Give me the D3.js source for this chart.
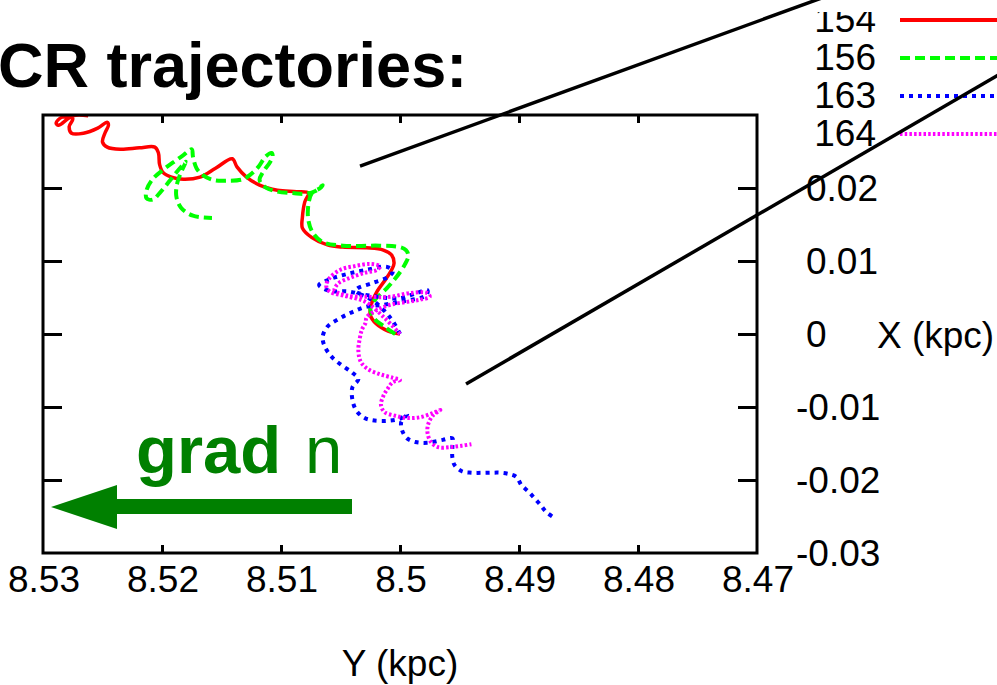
<!DOCTYPE html>
<html><head><meta charset="utf-8">
<script src="https://cdn.jsdelivr.net/npm/d3@7"></script>
<style>body{margin:0;background:#fff}svg{display:block}text{font-family:"Liberation Sans",Arial,sans-serif}</style>
</head><body>
<svg id="c" width="997" height="685"></svg>
<script>
// Y (kpc) horizontal, X (kpc) vertical — points are [Y, X]
const traj154 = [[8.5262,0.0299],[8.5275,0.0299],[8.5287,0.0286],[8.5289,0.0289],[8.5284,0.0297],[8.5275,0.0295],[8.5278,0.0284],[8.5276,0.0275],[8.5266,0.0275],[8.5254,0.0282],[8.5246,0.0290],[8.5245,0.0286],[8.5248,0.0275],[8.5250,0.0263],[8.5246,0.0256],[8.5235,0.0253],[8.5219,0.0255],[8.5206,0.0256],[8.5203,0.0248],[8.5202,0.0232],[8.5199,0.0221],[8.5192,0.0215],[8.5182,0.0212],[8.5168,0.0215],[8.5155,0.0227],[8.5141,0.0240],[8.5137,0.0229],[8.5129,0.0215],[8.5118,0.0204],[8.5103,0.0197],[8.5087,0.0195],[8.5077,0.0193],[8.5080,0.0181],[8.5082,0.0160],[8.5082,0.0145],[8.5074,0.0132],[8.5061,0.0122],[8.5048,0.0119],[8.5028,0.0118],[8.5014,0.0115],[8.5007,0.0108],[8.5005,0.0097],[8.5007,0.0088],[8.5012,0.0075],[8.5019,0.0059],[8.5024,0.0041],[8.5025,0.0026],[8.5020,0.0014],[8.5010,0.0004],[8.5000,0.0000]];
const traj156 = [[8.5004,0.0000],[8.5013,0.0010],[8.5022,0.0022],[8.5025,0.0036],[8.5021,0.0047],[8.5011,0.0063],[8.5003,0.0078],[8.4996,0.0095],[8.4993,0.0107],[8.4995,0.0115],[8.5000,0.0119],[8.5017,0.0121],[8.5048,0.0121],[8.5065,0.0126],[8.5073,0.0138],[8.5077,0.0156],[8.5077,0.0177],[8.5074,0.0193],[8.5067,0.0200],[8.5065,0.0204],[8.5071,0.0196],[8.5080,0.0192],[8.5090,0.0193],[8.5103,0.0195],[8.5113,0.0201],[8.5118,0.0211],[8.5115,0.0222],[8.5109,0.0236],[8.5107,0.0244],[8.5108,0.0248],[8.5113,0.0243],[8.5119,0.0229],[8.5126,0.0218],[8.5132,0.0212],[8.5145,0.0210],[8.5157,0.0211],[8.5166,0.0218],[8.5171,0.0227],[8.5174,0.0243],[8.5175,0.0253],[8.5182,0.0245],[8.5189,0.0237],[8.5199,0.0225],[8.5208,0.0212],[8.5213,0.0197],[8.5213,0.0186],[8.5208,0.0184],[8.5202,0.0193],[8.5193,0.0211],[8.5185,0.0227],[8.5180,0.0236],[8.5183,0.0225],[8.5187,0.0208],[8.5188,0.0189],[8.5184,0.0173],[8.5174,0.0162],[8.5158,0.0159]];
const traj163 = [[8.5000,0.0000],[8.5008,0.0022],[8.5024,0.0047],[8.5042,0.0058],[8.5059,0.0059],[8.5068,0.0067],[8.5059,0.0075],[8.5045,0.0082],[8.5028,0.0088],[8.5011,0.0092],[8.5006,0.0086],[8.5010,0.0078],[8.5023,0.0070],[8.5036,0.0062],[8.5037,0.0058],[8.5019,0.0051],[8.5000,0.0049],[8.4986,0.0056],[8.4977,0.0060],[8.4978,0.0053],[8.5000,0.0044],[8.5014,0.0040],[8.5029,0.0037],[8.5040,0.0030],[8.5050,0.0022],[8.5061,0.0010],[8.5065,-0.0004],[8.5063,-0.0018],[8.5057,-0.0032],[8.5048,-0.0044],[8.5040,-0.0053],[8.5035,-0.0062],[8.5040,-0.0073],[8.5040,-0.0090],[8.5037,-0.0104],[8.5031,-0.0114],[8.5024,-0.0118],[8.5011,-0.0119],[8.5000,-0.0116],[8.4994,-0.0110],[8.4999,-0.0121],[8.4998,-0.0133],[8.4994,-0.0143],[8.4987,-0.0148],[8.4977,-0.0149],[8.4964,-0.0145],[8.4956,-0.0143],[8.4956,-0.0155],[8.4956,-0.0169],[8.4954,-0.0180],[8.4948,-0.0188],[8.4940,-0.0190],[8.4924,-0.0190],[8.4916,-0.0190],[8.4908,-0.0192],[8.4902,-0.0196],[8.4898,-0.0207],[8.4892,-0.0216],[8.4888,-0.0223],[8.4882,-0.0234],[8.4877,-0.0244],[8.4870,-0.0252]];
const traj164 = [[8.5000,0.0000],[8.5013,0.0022],[8.5029,0.0044],[8.5046,0.0052],[8.5059,0.0058],[8.5062,0.0066],[8.5059,0.0077],[8.5050,0.0088],[8.5038,0.0093],[8.5025,0.0096],[8.5017,0.0093],[8.5019,0.0088],[8.5029,0.0084],[8.5042,0.0077],[8.5052,0.0069],[8.5055,0.0060],[8.5045,0.0053],[8.5028,0.0051],[8.5008,0.0051],[8.4992,0.0056],[8.4977,0.0056],[8.4975,0.0051],[8.4983,0.0047],[8.4994,0.0044],[8.5008,0.0040],[8.5019,0.0033],[8.5028,0.0023],[8.5029,0.0015],[8.5032,0.0006],[8.5034,-0.0008],[8.5035,-0.0022],[8.5033,-0.0038],[8.5027,-0.0048],[8.5017,-0.0055],[8.5006,-0.0060],[8.5000,-0.0063],[8.5006,-0.0066],[8.5010,-0.0074],[8.5014,-0.0085],[8.5016,-0.0097],[8.5013,-0.0107],[8.5004,-0.0112],[8.4994,-0.0115],[8.4983,-0.0114],[8.4972,-0.0108],[8.4966,-0.0104],[8.4972,-0.0111],[8.4976,-0.0122],[8.4977,-0.0134],[8.4974,-0.0148],[8.4968,-0.0155],[8.4958,-0.0155],[8.4948,-0.0153],[8.4940,-0.0151]];

const seriesNames = ["154","156","163","164"];
const seriesData = [traj154, traj156, traj163, traj164];
const seriesColors = ["#ff0000","#00ff00","#0000ff","#ff00ff"];
const seriesDash = [null, "10,5", "4,5", "2.5,2.2"];

const yTicks = [8.53, 8.52, 8.51, 8.5, 8.49, 8.48, 8.47];
const xTicks = [0.03, 0.02, 0.01, 0, -0.01, -0.02, -0.03];
const yTickLabels = ["8.53","8.52","8.51","8.5","8.49","8.48","8.47"];
const xTickLabels = ["","0.02","0.01","0","-0.01","-0.02","-0.03"];

// annotation pointer lines in data units
const pointers = [[[8.50336,0.0230],[8.46387,0.04644]],[[8.49445,-0.00685],[8.44958,0.03562]]];

const svg = d3.select("#c");
const L=43, R=757, T=115, B=553;
const sx = d3.scaleLinear().domain([8.53, 8.47]).range([L, R]);
const sy = d3.scaleLinear().domain([-0.03, 0.03]).range([B, T]);

svg.append("defs").append("clipPath").attr("id","clip")
  .append("rect").attr("x",L).attr("y",T).attr("width",R-L).attr("height",B-T);

const line = d3.line().x(d=>sx(d[0])).y(d=>sy(d[1])).curve(d3.curveCatmullRom.alpha(0.5));
const g = svg.append("g").attr("clip-path","url(#clip)");
seriesData.forEach((d,i)=>{
  g.append("path").attr("d", line(d)).attr("fill","none")
   .attr("stroke", seriesColors[i]).attr("stroke-width", i===0?3.5:4)
   .attr("stroke-dasharray", seriesDash[i]).attr("stroke-linejoin","round");
});

// axes frame and ticks
const axB = d3.axisBottom(sx).tickValues(yTicks.slice(1,-1)).tickSizeInner(-8).tickSizeOuter(0).tickFormat("");
const axT = d3.axisTop(sx).tickValues(yTicks.slice(1,-1)).tickSizeInner(-8).tickSizeOuter(0).tickFormat("");
const axLf = d3.axisLeft(sy).tickValues(xTicks.slice(1,-1)).tickSizeInner(-19).tickSizeOuter(0).tickFormat("");
const axRt = d3.axisRight(sy).tickValues(xTicks.slice(1,-1)).tickSizeInner(-19).tickSizeOuter(0).tickFormat("");
[[axB,`translate(0,${B})`],[axT,`translate(0,${T})`],[axLf,`translate(${L},0)`],[axRt,`translate(${R},0)`]].forEach(([a,t])=>{
  const ga = svg.append("g").attr("transform",t).call(a);
  ga.select(".domain").remove();
  ga.selectAll("line").attr("stroke","#000").attr("stroke-width",3);
});
svg.append("rect").attr("x",L).attr("y",T).attr("width",R-L).attr("height",B-T)
  .attr("fill","none").attr("stroke","#000").attr("stroke-width",3);

// tick labels
svg.append("g").selectAll("text").data(yTicks).join("text")
  .attr("x",d=>sx(d)+1).attr("y",592).attr("text-anchor","middle")
  .attr("font-size",37).text((d,i)=>yTickLabels[i]);
svg.append("g").selectAll("text").data(xTicks).join("text")
  .attr("x",(d,i)=> xTickLabels[i].startsWith("-") ? 796 : 806)
  .attr("y",d=>sy(d)+13).attr("font-size",37).text((d,i)=>xTickLabels[i]);

svg.append("text").attr("x",400).attr("y",676).attr("text-anchor","middle").attr("font-size",37).text("Y (kpc)");
svg.append("text").attr("x",877).attr("y",348).attr("font-size",37).text("X (kpc)");

// title
svg.append("text").attr("x",-2).attr("y",87).attr("font-size",63).attr("font-weight","bold").text("CR trajectories:");

// legend
const legY = [20,58,96,134];
seriesNames.forEach((n,i)=>{
  svg.append("text").attr("x",876).attr("y",legY[i]+12).attr("text-anchor","end").attr("font-size",37).text(n);
  svg.append("line").attr("x1",900).attr("x2",1000).attr("y1",legY[i]).attr("y2",legY[i])
    .attr("stroke",seriesColors[i]).attr("stroke-width",4).attr("stroke-dasharray",seriesDash[i]);
});
// top of the first legend label is masked in the reference
svg.append("rect").attr("x",805).attr("y",0).attr("width",80).attr("height",12).attr("fill","#fff");

// pointer lines
pointers.forEach(p=>{
  svg.append("line").attr("x1",sx(p[0][0])).attr("y1",sy(p[0][1])).attr("x2",sx(p[1][0])).attr("y2",sy(p[1][1]))
    .attr("stroke","#000").attr("stroke-width",3.5);
});

// grad n arrow
const green="#008000";
svg.append("text").attr("x",136).attr("y",473).attr("font-size",67).attr("font-weight","bold").attr("fill",green).text("grad");
svg.append("text").attr("x",305).attr("y",473).attr("font-size",67).attr("fill",green).text("n");
svg.append("path").attr("fill",green)
  .attr("d","M352,499 L117,499 L117,485 L51,507 L117,529 L117,514 L352,514 Z");
</script>
</body></html>
